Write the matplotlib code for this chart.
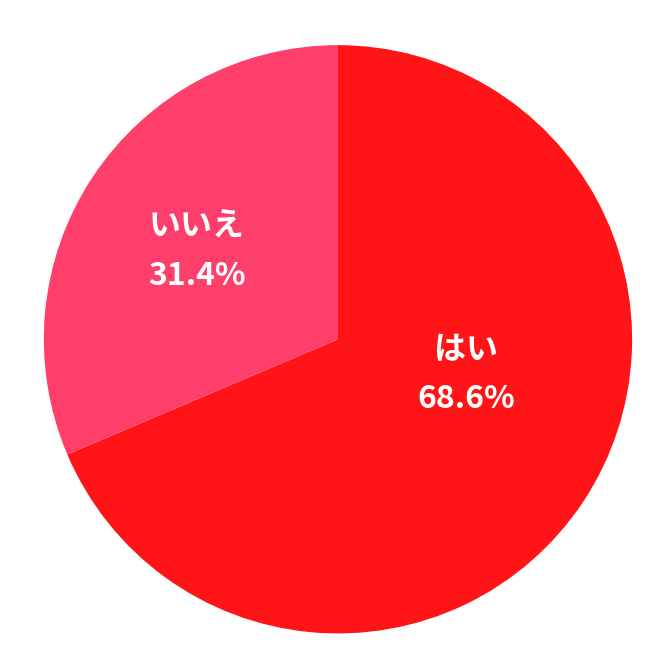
import matplotlib
matplotlib.use("Agg")
import matplotlib.pyplot as plt

# データ
labels = ["はい", "いいえ"]
values = [68.6, 31.4]
colors = ["#FF1418", "#FF3F6B"]

plt.rcParams['font.family'] = ['Noto Sans CJK JP', 'DejaVu Sans']

fig = plt.figure(figsize=(6.64, 6.64), dpi=100)
ax = fig.add_axes([0.066, 0.046, 0.886, 0.886])

wedges, _ = ax.pie(values, colors=colors, startangle=90, counterclock=False,
                   radius=1.0, wedgeprops=dict(linewidth=0))
ax.set_xlim(-1, 1)
ax.set_ylim(-1, 1)
ax.set_aspect('equal')
ax.axis('off')

# ラベル位置（半径に対する相対位置）
label_pos = [(0.435, -0.12), (-0.48, 0.30)]
for lab, val, (x, y) in zip(labels, values, label_pos):
    ax.text(x, y, f"{lab}\n{val:.1f}%", ha='center', va='center',
            color='white', fontsize=23, fontweight='bold', linespacing=1.7)

fig.savefig("out.png", dpi=100, facecolor='white')
